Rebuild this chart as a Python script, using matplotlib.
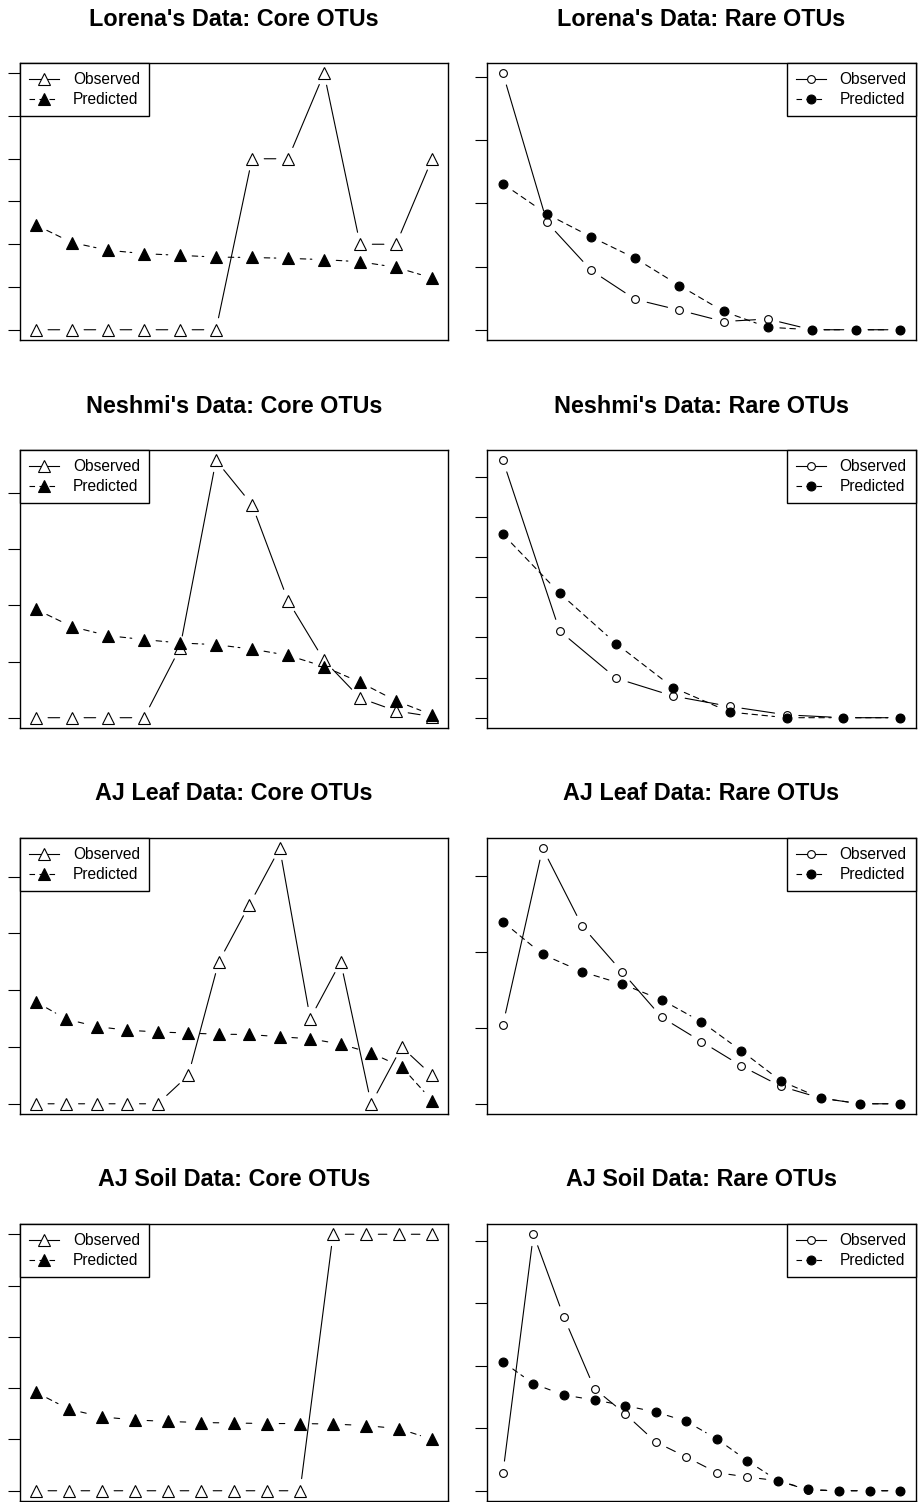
import matplotlib
matplotlib.use('Agg')
import matplotlib.pyplot as plt
from matplotlib.lines import Line2D

plt.rcParams['font.family'] = ['Liberation Sans', 'DejaVu Sans']

titles = ["Lorena's Data: Core OTUs", "Lorena's Data: Rare OTUs",
          "Neshmi's Data: Core OTUs", "Neshmi's Data: Rare OTUs",
          "AJ Leaf Data: Core OTUs", "AJ Leaf Data: Rare OTUs",
          "AJ Soil Data: Core OTUs", "AJ Soil Data: Rare OTUs"]

# values (axis labels are not shown, units are tick units)
lorena_core_obs = [0, 0, 0, 0, 0, 0, 4, 4, 6, 2, 2, 4]
lorena_core_pred = [2.45, 2.04, 1.86, 1.78, 1.74, 1.70, 1.69, 1.67, 1.64, 1.59, 1.46, 1.21]
lorena_rare_obs = [4.06, 1.70, 0.94, 0.48, 0.31, 0.13, 0.17, 0, 0, 0]
lorena_rare_pred = [2.31, 1.83, 1.47, 1.13, 0.70, 0.29, 0.04, 0, 0, 0]

neshmi_core_obs = [0, 0, 0, 0, 1.24, 4.58, 3.79, 2.08, 1.02, 0.35, 0.12, 0.02]
neshmi_core_pred = [1.93, 1.62, 1.46, 1.39, 1.33, 1.30, 1.22, 1.11, 0.91, 0.63, 0.30, 0.05]
neshmi_rare_obs = [6.41, 2.16, 0.98, 0.54, 0.28, 0.07, 0, 0]
neshmi_rare_pred = [4.57, 3.10, 1.84, 0.75, 0.14, 0, 0, 0]

leaf_core_obs = [0, 0, 0, 0, 0, 1, 5, 7, 9, 3, 5, 0, 2, 1]
leaf_core_pred = [3.59, 2.98, 2.72, 2.59, 2.53, 2.49, 2.45, 2.44, 2.36, 2.29, 2.10, 1.79, 1.30, 0.11]
leaf_rare_obs = [1.04, 3.37, 2.34, 1.74, 1.14, 0.82, 0.50, 0.23, 0.075, 0, 0]
leaf_rare_pred = [2.40, 1.97, 1.74, 1.58, 1.37, 1.08, 0.70, 0.30, 0.075, 0, 0]

soil_core_obs = [0, 0, 0, 0, 0, 0, 0, 0, 0, 5, 5, 5, 5]
soil_core_pred = [1.92, 1.59, 1.44, 1.38, 1.35, 1.33, 1.32, 1.31, 1.31, 1.30, 1.27, 1.21, 1.00]
soil_rare_obs = [0.28, 4.10, 2.77, 1.63, 1.23, 0.78, 0.54, 0.29, 0.22, 0.16, 0.01, 0, 0, 0]
soil_rare_pred = [2.06, 1.71, 1.53, 1.45, 1.36, 1.26, 1.11, 0.83, 0.48, 0.16, 0.02, 0, 0, 0]

yticks = [[0, 1, 2, 3, 4, 5, 6], [0, 1, 2, 3, 4],
          [0, 1, 2, 3, 4], [0, 1, 2, 3, 4, 5, 6],
          [0, 2, 4, 6, 8], [0, 1, 2, 3],
          [0, 1, 2, 3, 4, 5], [0, 1, 2, 3, 4]]

observed = [lorena_core_obs, lorena_rare_obs, neshmi_core_obs, neshmi_rare_obs,
            leaf_core_obs, leaf_rare_obs, soil_core_obs, soil_rare_obs]
predicted = [lorena_core_pred, lorena_rare_pred, neshmi_core_pred, neshmi_rare_pred,
             leaf_core_pred, leaf_rare_pred, soil_core_pred, soil_rare_pred]

W, H = 920, 1502
fig = plt.figure(figsize=(W / 100, H / 100), dpi=100)

col_x = [(20, 448), (487, 916)]
row_y = [(63, 340), (450, 728), (838, 1114), (1224, 1501)]

dash = (0, (5, 4))


def draw_b(ax, x, y, ls):
    # like R type="b": segments with a gap round each point
    for i in range(len(x) - 1):
        ax.annotate('', xy=(x[i + 1], y[i + 1]), xytext=(x[i], y[i]),
                    arrowprops=dict(arrowstyle='-', shrinkA=8.8, shrinkB=8.8,
                                    lw=0.8, ls=ls, color='black'))


for k in range(8):
    r, c = k // 2, k % 2
    x0, x1 = col_x[c]
    top, bot = row_y[r]
    ax = fig.add_axes([x0 / W, 1 - bot / H, (x1 - x0) / W, (bot - top) / H])

    obs = observed[k]
    pred = predicted[k]
    xs = list(range(1, len(obs) + 1))
    core = c == 0
    if core:
        mk, ms_o, ms_p = '^', 9.0, 9.0
    else:
        mk, ms_o, ms_p = 'o', 5.6, 6.4

    ax.plot(xs, obs, ls='none', marker=mk, ms=ms_o, mfc='white', mec='black', mew=0.8, zorder=3)
    ax.plot(xs, pred, ls='none', marker=mk, ms=ms_p, mfc='black', mec='black', mew=0.8, zorder=4)
    ax.margins(0.04)
    draw_b(ax, xs, obs, '-')
    draw_b(ax, xs, pred, dash)

    ax.set_xticks([])
    ax.set_yticks(yticks[k])
    ax.tick_params(axis='y', direction='out', length=8.6, width=0.8, labelleft=False)
    for s in ax.spines.values():
        s.set_linewidth(1.0)
    ax.set_title(titles[k], fontsize=16.8, fontweight='bold', pad=27)

    handles = [Line2D([], [], color='black', lw=0.8, ls='-', marker=mk, ms=ms_o,
                      mfc='white', mec='black', mew=0.8),
               Line2D([], [], color='black', lw=0.8, ls=dash, marker=mk, ms=ms_p,
                      mfc='black', mec='black', mew=0.8)]
    leg = ax.legend(handles, ['Observed', 'Predicted'],
                    loc='upper left' if core else 'upper right',
                    borderaxespad=0, fancybox=False, framealpha=1, edgecolor='black',
                    fontsize=11.2, handlelength=1.9, handletextpad=0.9,
                    labelspacing=0.3, borderpad=0.6)
    leg.get_frame().set_linewidth(1.0)

fig.savefig('out.png', dpi=100)
